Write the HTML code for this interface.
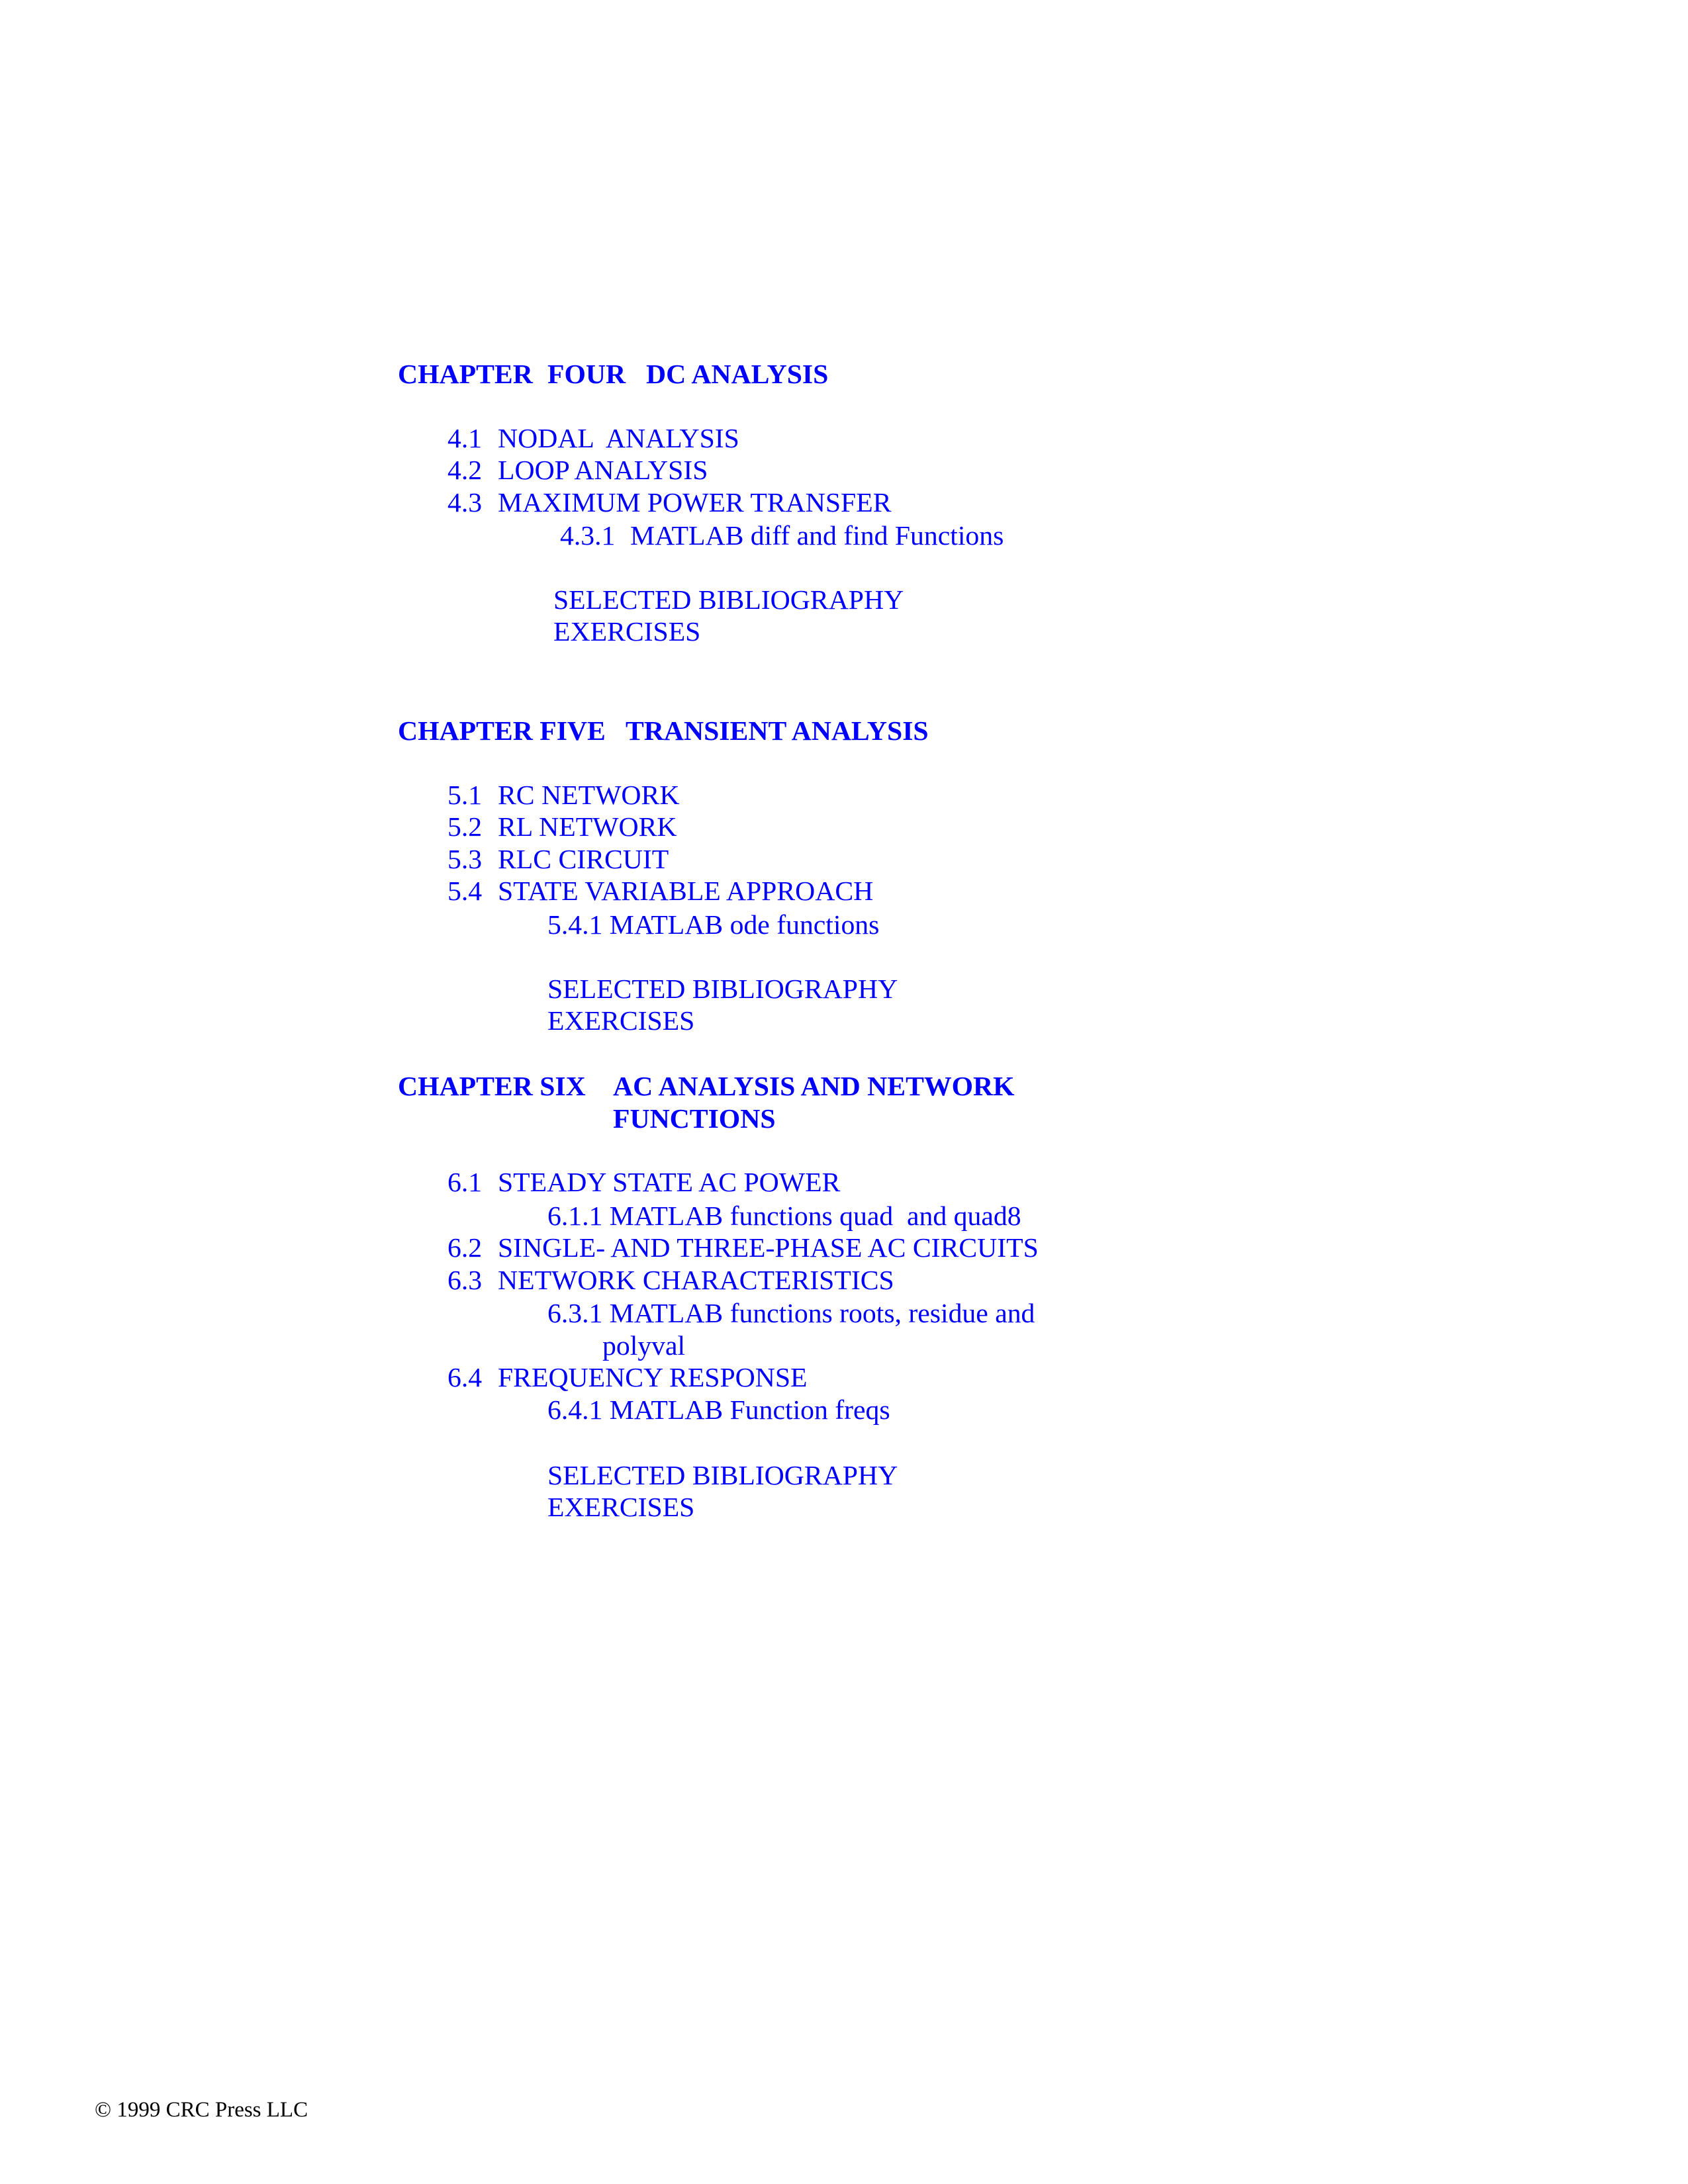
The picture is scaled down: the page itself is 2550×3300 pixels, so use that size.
<!DOCTYPE html>
<html><head><meta charset="utf-8"><style>
html,body{margin:0;padding:0;background:#fff;}
body{width:2550px;height:3300px;position:relative;overflow:hidden;font-family:"Liberation Serif","Times New Roman",serif;}
.t{position:absolute;font-size:41.7px;line-height:42px;color:#0000ff;white-space:pre;margin-top:0px;}
.b{font-weight:bold;}
.f{position:absolute;font-size:33px;line-height:33px;color:#000;white-space:pre;}
</style></head><body>
<div class="t b" style="left:601px;top:545px">CHAPTER</div>
<div class="t b" style="left:827px;top:545px">FOUR</div>
<div class="t b" style="left:976px;top:545px">DC ANALYSIS</div>

<div class="t" style="left:676px;top:642px">4.1</div><div class="t" style="left:752px;top:642px">NODAL  ANALYSIS</div>
<div class="t" style="left:676px;top:690px">4.2</div><div class="t" style="left:752px;top:690px">LOOP ANALYSIS</div>
<div class="t" style="left:676px;top:739px">4.3</div><div class="t" style="left:752px;top:739px">MAXIMUM POWER TRANSFER</div>
<div class="t" style="left:846px;top:789px">4.3.1</div><div class="t" style="left:952px;top:789px">MATLAB diff and find Functions</div>
<div class="t" style="left:836px;top:886px">SELECTED BIBLIOGRAPHY</div>
<div class="t" style="left:836px;top:934px">EXERCISES</div>

<div class="t b" style="left:601px;top:1084px">CHAPTER FIVE</div>
<div class="t b" style="left:945px;top:1084px">TRANSIENT ANALYSIS</div>
<div class="t" style="left:676px;top:1181px">5.1</div><div class="t" style="left:752px;top:1181px">RC NETWORK</div>
<div class="t" style="left:676px;top:1229px">5.2</div><div class="t" style="left:752px;top:1229px">RL NETWORK</div>
<div class="t" style="left:676px;top:1278px">5.3</div><div class="t" style="left:752px;top:1278px">RLC CIRCUIT</div>
<div class="t" style="left:676px;top:1326px">5.4</div><div class="t" style="left:752px;top:1326px">STATE VARIABLE APPROACH</div>
<div class="t" style="left:827px;top:1377px">5.4.1 MATLAB ode functions</div>
<div class="t" style="left:827px;top:1474px">SELECTED BIBLIOGRAPHY</div>
<div class="t" style="left:827px;top:1522px">EXERCISES</div>

<div class="t b" style="left:601px;top:1621px">CHAPTER SIX</div>
<div class="t b" style="left:926px;top:1621px">AC ANALYSIS AND NETWORK</div>
<div class="t b" style="left:926px;top:1670px">FUNCTIONS</div>
<div class="t" style="left:676px;top:1766px">6.1</div><div class="t" style="left:752px;top:1766px">STEADY STATE AC POWER</div>
<div class="t" style="left:827px;top:1817px">6.1.1 MATLAB functions quad  and quad8</div>
<div class="t" style="left:676px;top:1865px">6.2</div><div class="t" style="left:752px;top:1865px">SINGLE- AND THREE-PHASE AC CIRCUITS</div>
<div class="t" style="left:676px;top:1914px">6.3</div><div class="t" style="left:752px;top:1914px">NETWORK CHARACTERISTICS</div>
<div class="t" style="left:827px;top:1964px">6.3.1 MATLAB functions roots, residue and</div>
<div class="t" style="left:910px;top:2013px">polyval</div>
<div class="t" style="left:676px;top:2061px">6.4</div><div class="t" style="left:752px;top:2061px">FREQUENCY RESPONSE</div>
<div class="t" style="left:827px;top:2110px">6.4.1 MATLAB Function freqs</div>
<div class="t" style="left:827px;top:2209px">SELECTED BIBLIOGRAPHY</div>
<div class="t" style="left:827px;top:2257px">EXERCISES</div>

<div class="f" style="left:143px;top:3172px">© 1999 CRC Press LLC</div>
</body></html>
